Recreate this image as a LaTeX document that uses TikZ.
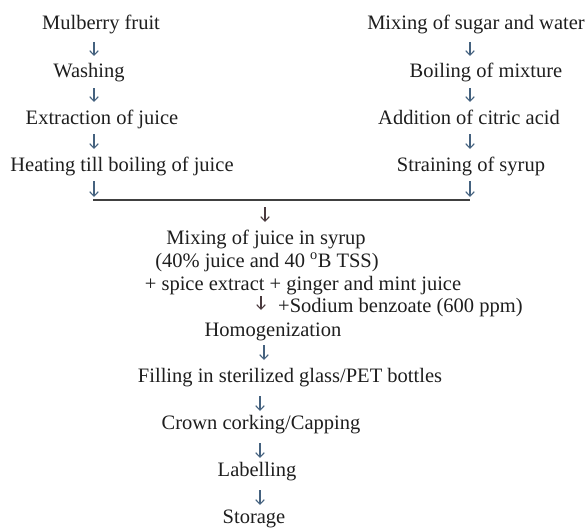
\documentclass[tikz,border=0pt]{standalone}
\usepackage{fontspec}
\setmainfont{Liberation Serif}
\usetikzlibrary{arrows.meta}
\definecolor{txt}{HTML}{1E1E1E}
\definecolor{arrc}{HTML}{45627F}
\definecolor{arrd}{HTML}{4A3A3E}
\begin{document}
\begin{tikzpicture}[x=1pt,y=-1pt,
  lbl/.style={anchor=base,inner sep=0pt,text=txt,font=\fontsize{20.5}{24}\selectfont},
  arr/.style={draw=arrc,line width=1.1pt,-{Straight Barb[length=4.5pt,width=8.5pt,line width=1.1pt]}},
  arrdark/.style={arr,draw=arrd},
  joinline/.style={draw=txt!85,line width=1.2pt}]
\useasboundingbox (0,0) rectangle (588,527);
% left column
\node[lbl] (mul) at (101,30) {Mulberry fruit};
\node[lbl] (wash) at (89,77) {Washing};
\node[lbl] (extr) at (102,124) {Extraction of juice};
\node[lbl] (heat) at (122,171) {Heating till boiling of juice};
% right column
\node[lbl] (mixs) at (476,30) {Mixing of sugar and water};
\node[lbl] (boil) at (486,77) {Boiling of mixture};
\node[lbl] (citr) at (469,124) {Addition of citric acid};
\node[lbl] (strn) at (471,171) {Straining of syrup};
% centre
\node[lbl] (mixj) at (266,244) {Mixing of juice in syrup};
\node[lbl] (pct) at (267,267) {(40\% juice and 40 \textsuperscript{o}B TSS)};
\node[lbl] (spice) at (303,290) {+ spice extract + ginger and mint juice};
\node[lbl,anchor=base west] (sod) at (278,312) {+Sodium benzoate (600 ppm)};
\node[lbl] (homo) at (273,336) {Homogenization};
\node[lbl] (fill) at (290,382) {Filling in sterilized glass/PET bottles};
\node[lbl] (crown) at (261,429) {Crown corking/Capping};
\node[lbl] (lab) at (257,476) {Labelling};
\node[lbl] (stor) at (254,523) {Storage};
% arrow coordinates
\coordinate (l1t) at (94,42); \coordinate (l1b) at (94,56);
\coordinate (l2t) at (94,88); \coordinate (l2b) at (94,102);
\coordinate (l3t) at (94,134); \coordinate (l3b) at (94,149);
\coordinate (l4t) at (94,181); \coordinate (l4b) at (94,197);
\coordinate (r1t) at (470,42); \coordinate (r1b) at (470,56);
\coordinate (r2t) at (470,88); \coordinate (r2b) at (470,102);
\coordinate (r3t) at (470,134); \coordinate (r3b) at (470,149);
\coordinate (r4t) at (470,181); \coordinate (r4b) at (470,197);
\coordinate (jl) at (93,200); \coordinate (jr) at (470,200);
\coordinate (c0t) at (265,207); \coordinate (c0b) at (265,222);
\coordinate (c1t) at (261,296); \coordinate (c1b) at (261,310);
\coordinate (c2t) at (264,345); \coordinate (c2b) at (264,360);
\coordinate (c3t) at (260,396); \coordinate (c3b) at (260,411);
\coordinate (c4t) at (260,443); \coordinate (c4b) at (260,458);
\coordinate (c5t) at (260,490); \coordinate (c5b) at (260,505);
% connectors
\draw[arr] (l1t) -- (l1b);
\draw[arr] (l2t) -- (l2b);
\draw[arr] (l3t) -- (l3b);
\draw[arr] (l4t) -- (l4b);
\draw[arr] (r1t) -- (r1b);
\draw[arr] (r2t) -- (r2b);
\draw[arr] (r3t) -- (r3b);
\draw[arr] (r4t) -- (r4b);
\draw[joinline] (jl) -- (jr);
\draw[arrdark] (c0t) -- (c0b);
\draw[arrdark] (c1t) -- (c1b);
\draw[arr] (c2t) -- (c2b);
\draw[arr] (c3t) -- (c3b);
\draw[arr] (c4t) -- (c4b);
\draw[arr] (c5t) -- (c5b);
\end{tikzpicture}
\end{document}
